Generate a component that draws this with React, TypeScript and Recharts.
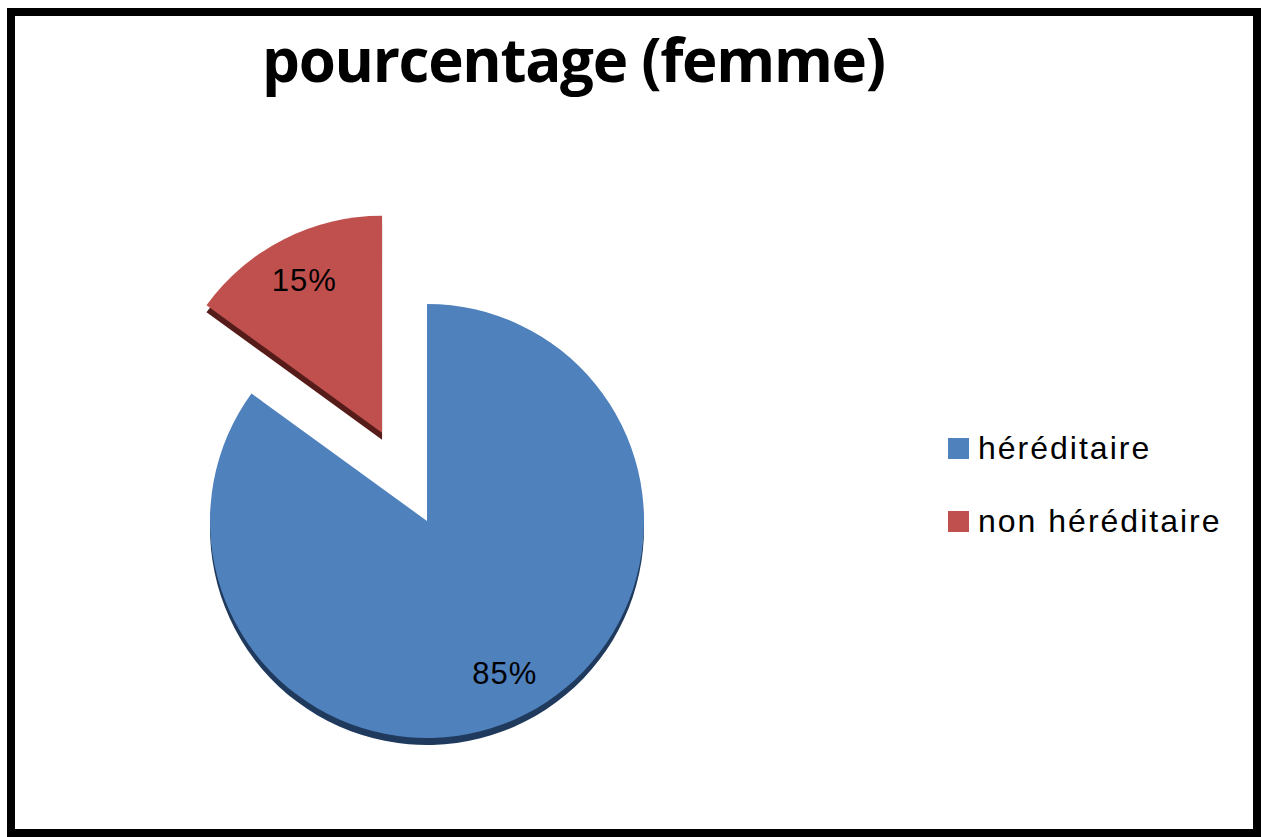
import React from "react";
import { PieChart, Pie, Cell, Legend, Sector } from "recharts";

const categories = ["héréditaire", "non héréditaire"];
const values = [85, 15];
const colors = ["#4F81BD", "#C0504D"];
const edgeColors = ["#1F3A5C", "#561C19"];
const explode = [0, 99];

const data = categories.map((name, i) => ({ name, value: values[i] }));

const RAD = Math.PI / 180;
const FONT = "'Liberation Sans', Arial, sans-serif";

const offsetFor = (index: number, midAngle: number) => {
  const off = explode[index] || 0;
  return {
    dx: off * Math.cos(-midAngle * RAD),
    dy: off * Math.sin(-midAngle * RAD),
  };
};

const ExplodedSector = (props: any) => {
  const { dx, dy } = offsetFor(props.index, props.midAngle);
  return <Sector {...props} cx={props.cx + dx} cy={props.cy + dy} />;
};

const renderLabel = (props: any) => {
  const { cx, cy, midAngle, outerRadius, percent, index } = props;
  const { dx, dy } = offsetFor(index, midAngle);
  const r = outerRadius * 0.79;
  const x = cx + dx + r * Math.cos(-midAngle * RAD);
  const y = cy + dy + r * Math.sin(-midAngle * RAD);
  return (
    <text
      x={x}
      y={y}
      fill="#000"
      textAnchor="middle"
      dominantBaseline="central"
      style={{ fontFamily: FONT, fontSize: 31, letterSpacing: 1 }}
    >
      {`${Math.round(percent * 100)}%`}
    </text>
  );
};

const renderLegend = () => (
  <div style={{ fontFamily: FONT }}>
    {categories.map((name, i) => (
      <div
        key={name}
        style={{ display: "flex", alignItems: "center", height: 22, marginBottom: i === 0 ? 51 : 0 }}
      >
        <div style={{ width: 21, height: 21, background: colors[i], marginRight: 9 }} />
        <span style={{ fontSize: 32, letterSpacing: 2, color: "#000", lineHeight: "22px" }}>{name}</span>
      </div>
    ))}
  </div>
);

export default function App() {
  return (
    <div
      style={{
        position: "fixed",
        left: 7,
        top: 8,
        width: 1254,
        height: 829,
        boxSizing: "border-box",
        border: "8px solid #000",
        background: "#fff",
      }}
    >
      <div
        style={{
          position: "absolute",
          left: 247,
          top: 13,
          fontFamily: "'Open Sans', sans-serif",
          fontWeight: 700,
          fontSize: 60,
          lineHeight: "60px",
          letterSpacing: -1.3,
          whiteSpace: "nowrap",
          color: "#000",
        }}
      >
        pourcentage (femme)
      </div>
      <div style={{ position: "absolute", left: 0, top: 100 }}>
        <PieChart width={1238} height={713} margin={{ top: 0, right: 0, bottom: 0, left: 0 }}>
          <Pie
            data={data}
            dataKey="value"
            nameKey="name"
            cx={412}
            cy={412}
            outerRadius={217}
            startAngle={90}
            endAngle={-270}
            stroke="none"
            shape={ExplodedSector}
            legendType="none"
            isAnimationActive={false}
          >
            {data.map((d, i) => (
              <Cell key={d.name} fill={edgeColors[i]} />
            ))}
          </Pie>
          <Pie
            data={data}
            dataKey="value"
            nameKey="name"
            cx={412}
            cy={405}
            outerRadius={217}
            startAngle={90}
            endAngle={-270}
            stroke="none"
            shape={ExplodedSector}
            label={renderLabel}
            labelLine={false}
            isAnimationActive={false}
          >
            {data.map((d, i) => (
              <Cell key={d.name} fill={colors[i]} />
            ))}
          </Pie>
          <Legend
            content={renderLegend}
            wrapperStyle={{ position: "absolute", left: 933, top: 321, width: 300, bottom: "auto" }}
          />
        </PieChart>
      </div>
    </div>
  );
}
